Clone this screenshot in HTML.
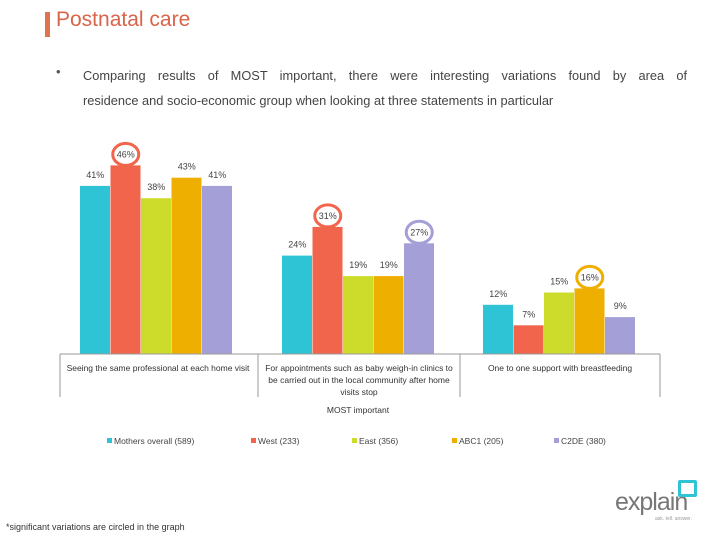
<!DOCTYPE html>
<html><head><meta charset="utf-8"><style>
body{margin:0;width:720px;height:540px;background:#fff;overflow:hidden;font-family:"Liberation Sans",sans-serif;position:relative}
.t{position:absolute}
</style></head><body>
<div class="t" style="left:45px;top:12px;width:5px;height:25px;background:#e0724f"></div>
<div class="t" style="left:56px;top:8px;font-size:21px;color:#d9644a;">Postnatal care</div>
<div class="t" style="left:56px;top:64px;font-size:13px;color:#555">•</div>
<div class="t" style="left:83px;top:63px;width:604px;font-size:12.8px;line-height:25px;color:#444">
<div style="text-align:justify;text-align-last:justify">Comparing results of MOST important, there were interesting variations found by area of</div>
<div>residence and socio-economic group when looking at three statements in particular</div></div>
<svg id="chart" width="720" height="540" style="position:absolute;left:0;top:0" font-family="Liberation Sans, sans-serif"></svg>
<div class="t" style="left:6px;top:522px;font-size:9px;color:#333">*significant variations are circled in the graph</div>
<div class="t" style="left:615px;top:488px;font-size:25px;color:#777;letter-spacing:-1px">explain</div>
<div class="t" style="left:678px;top:480px;width:13px;height:11px;border:3px solid #2ec4d6;border-radius:2px"></div>
<div class="t" style="left:655px;top:516px;font-size:5px;color:#999">ask. tell. answer.</div>
<script>
const categories=["Seeing the same professional at each home visit","For appointments such as baby weigh-in clinics to be carried out in the local community after home visits stop","One to one support with breastfeeding"];
const series=["Mothers overall (589)","West (233)","East (356)","ABC1 (205)","C2DE (380)"];
const colors=["#2ec4d6","#f0654b","#cddc2b","#eeaf00","#a49fd6"];
const values=[[41,46,38,43,41],[24,31,19,19,27],[12,7,15,16,9]];
const circled=[[0,1],[1,1],[1,4],[2,3]];
const svg=document.getElementById('chart');
const NS="http://www.w3.org/2000/svg";
const base=354, ppu=4.1, groupX=[80,282,483], bw=30.5;
const y=v=>base-v*ppu;
function mk(t,a){const e=document.createElementNS(NS,t);for(const k in a)e.setAttribute(k,a[k]);svg.appendChild(e);return e;}
values.forEach((g,gi)=>{g.forEach((v,si)=>{
 const x=groupX[gi]+si*bw;
 const r=mk('rect',{x:x,y:y(v),width:bw-0.5,height:v*ppu,fill:colors[si]});
 
 
 const t=mk('text',{x:x+bw/2,y:y(v)-8,'font-size':9,fill:'#444','text-anchor':'middle'});
 t.textContent=v+'%';
 
 
});});
circled.forEach(([gi,si])=>{
 const v=values[gi][si];
 const c=mk('ellipse',{cx:groupX[gi]+si*bw+bw/2,cy:y(v)-11,rx:13,ry:11,fill:'none',stroke:colors[si],'stroke-width':3});
 
 
});
const ax=mk('line',{x1:60,y1:base,x2:660,y2:base,stroke:'#999'});


[60,258,460,660].forEach(x=>{const l=mk('line',{x1:x,y1:base,x2:x,y2:397,stroke:'#999'});
 
 });
const lines=[[categories[0]],["For appointments such as baby weigh-in clinics to","be carried out in the local community after home","visits stop"],[categories[2]]];
const cx=[158,359,560];
lines.forEach((ls,i)=>ls.forEach((s,j)=>{const t=mk('text',{x:cx[i],y:371+j*12,'font-size':8.5,fill:'#333','text-anchor':'middle'});
 t.textContent=s;
 
 }));
const at=mk('text',{x:358,y:413,'font-size':8.5,fill:'#333','text-anchor':'middle'});at.textContent='MOST important';


const lx=[107,251,352,452,554];
series.forEach((s,i)=>{const r=mk('rect',{x:lx[i],y:438,width:5,height:5,fill:colors[i]});
 
 
 const t=mk('text',{x:lx[i]+7,y:444,'font-size':8.5,fill:'#444'});t.textContent=s;
 
 });
</script>
</body></html>
